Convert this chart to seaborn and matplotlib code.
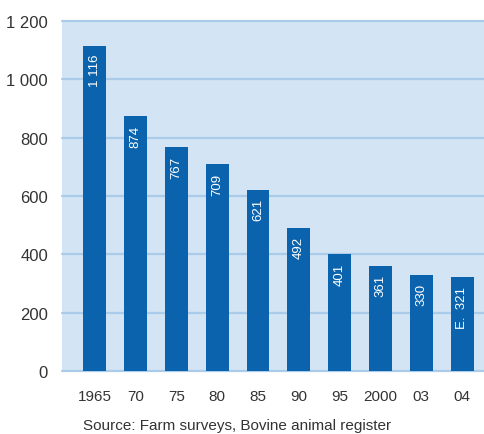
import matplotlib
matplotlib.use("Agg")
import matplotlib.pyplot as plt
import seaborn as sns
import pandas as pd

# Dairy herds by year (thousands), with in-bar labels
years = ["1965", "70", "75", "80", "85", "90", "95", "2000", "03", "04"]
values = [1116, 874, 767, 709, 621, 492, 401, 361, 330, 321]
labels = ["1 116", "874", "767", "709", "621", "492", "401", "361", "330", "E.  321"]
yticks = [0, 200, 400, 600, 800, 1000, 1200]
ytick_labels = ["0", "200", "400", "600", "800", "1 000", "1 200"]
source = "Source: Farm surveys, Bovine animal register"

sns.set_style("white")
plt.rcParams["font.family"] = ["Liberation Sans", "DejaVu Sans"]

df = pd.DataFrame({"year": years, "value": values})

fig = plt.figure(figsize=(4.84, 4.35), dpi=100)
ax = fig.add_axes([0.128, 0.1448, 0.872, 0.8046])
ax.set_facecolor("#d3e4f5")

sns.barplot(data=df, x="year", y="value", order=years, color="#0b63ad",
            saturation=1, width=0.56, ax=ax, zorder=3,
            edgecolor="none", linewidth=0)

ax.set_ylim(0, 1200)
ax.set_xlim(-0.805, 9.537)
ax.set_yticks(yticks)
ax.set_yticklabels(ytick_labels, fontsize=12, color="#333333")
ax.tick_params(axis="x", labelsize=11, colors="#333333", length=0, pad=13)
ax.tick_params(axis="y", length=0, pad=10)
ax.set_xlabel("")
ax.set_ylabel("")
for s in ax.spines.values():
    s.set_visible(False)
for t in yticks:
    ax.axhline(t, color="#aacbea", lw=1.6, zorder=1, clip_on=False)

# value labels inside the top of each bar
for bar, lab in zip(ax.patches, labels):
    x = bar.get_x() + bar.get_width() / 2
    top = bar.get_height()
    ax.annotate(lab, xy=(x, top), xytext=(0, -6), textcoords="offset points",
                rotation=90, ha="center", va="top", color="white",
                fontsize=9.5, zorder=4)

fig.text(83 / 484, 1 - 426 / 435, source, fontsize=11, color="#333333",
         ha="left", va="center")

fig.savefig("out.png", dpi=100)
